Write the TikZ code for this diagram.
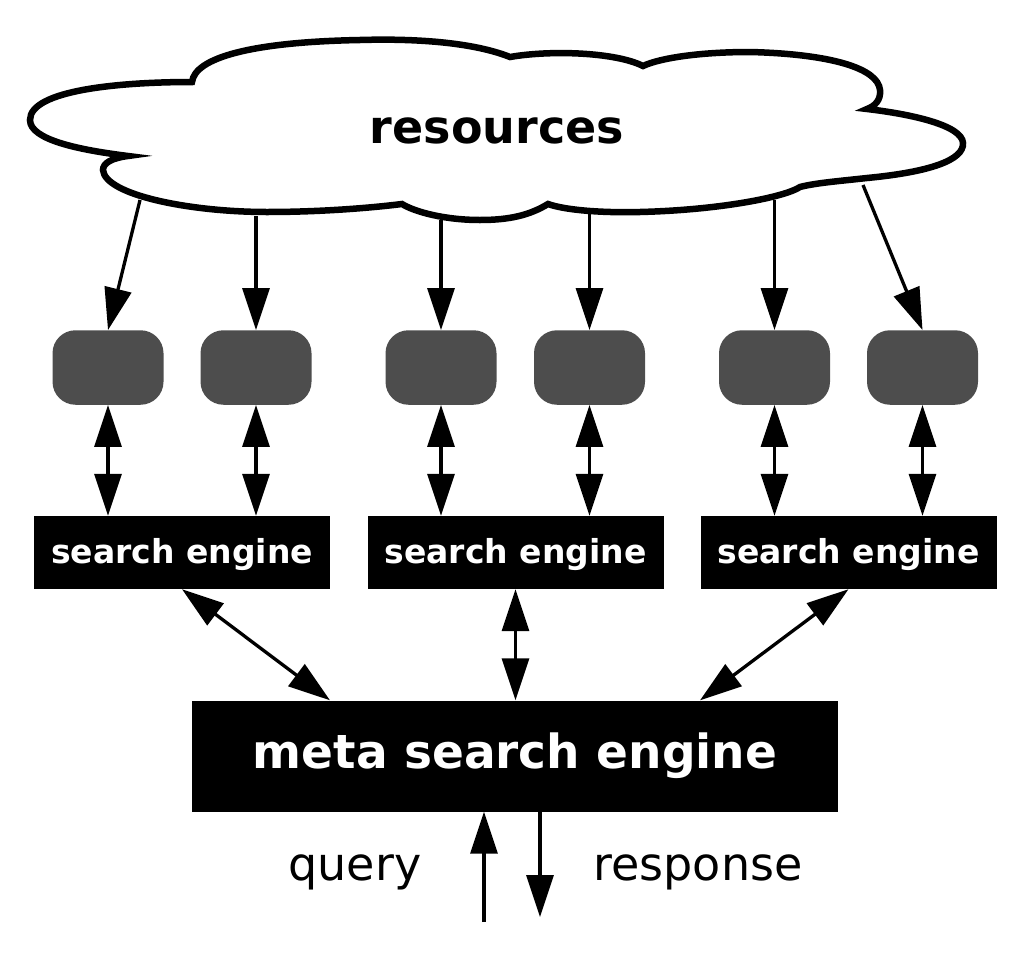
\documentclass[tikz,border=0pt]{standalone}
\usepackage{fontspec}
\setmainfont{DejaVu Sans}
\usetikzlibrary{arrows.meta}
\definecolor{boxgray}{RGB}{77,77,77}
\tikzset{every node/.style={inner sep=0pt},line join=round,
  feed/.style={line width=3.3pt,-{Triangle[length=42pt,width=27pt]}},
  link/.style={line width=3.3pt,{Triangle[length=42pt,width=27pt]}-{Triangle[length=42pt,width=27pt]}},
  idxbox/.style={rectangle,rounded corners=23pt,fill=boxgray,minimum width=111pt,minimum height=74.5pt},
  engbox/.style={rectangle,fill=black,text=white,font=\fontsize{33}{36}\selectfont\bfseries,
    text height=25pt,text depth=4pt,minimum width=296pt,minimum height=73pt}}

\begin{document}
\begin{tikzpicture}[x=1pt,y=-1pt]
  \path[use as bounding box] (0,0) rectangle (1024,961);
  % cloud
  \draw[line width=6.5pt,fill=white] (192,82) .. controls (195,58) and (250,42) .. (360,40)
    .. controls (430,38) and (480,45) .. (510,57)
    .. controls (550,50) and (615,52) .. (643,66)
    .. controls (660,58) and (700,52) .. (750,52)
    .. controls (830,54) and (878,68) .. (880,90)
    .. controls (881,100) and (875,106) .. (867,109)
    .. controls (910,114) and (962,125) .. (963,143)
    .. controls (964,160) and (930,172) .. (867,178)
    .. controls (840,181) and (815,183) .. (800,187)
    .. controls (785,197) and (720,210) .. (640,212)
    .. controls (600,213) and (565,210) .. (548,204)
    .. controls (530,215) and (510,220) .. (480,220)
    .. controls (445,220) and (415,212) .. (402,204)
    .. controls (370,208) and (320,212) .. (267,212)
    .. controls (190,212) and (105,195) .. (103,170)
    .. controls (103,163) and (112,158) .. (128,156)
    .. controls (80,150) and (30,140) .. (30,120)
    .. controls (30,90) and (120,82) .. cycle;
  \node[font=\fontsize{46}{50}\selectfont\bfseries,anchor=base] (res) at (497,143) {resources};
  \coordinate (r1) at (140,200);
  \coordinate (r2) at (256,216);
  \coordinate (r3) at (441,220);
  \coordinate (r4) at (589.5,212);
  \coordinate (r5) at (774.5,200);
  \coordinate (r6) at (863,185);
  % index boxes
  \node[idxbox] (g1) at (108,367.5) {};
  \node[idxbox] (g2) at (256,367.5) {};
  \node[idxbox] (g3) at (441,367.5) {};
  \node[idxbox] (g4) at (589.5,367.5) {};
  \node[idxbox] (g5) at (774.5,367.5) {};
  \node[idxbox] (g6) at (922.5,367.5) {};
  % engines
  \node[engbox] (s1) at (182,552.5) {search engine};
  \node[engbox] (s2) at (515.5,552.5) {search engine};
  \node[engbox] (s3) at (848.5,552.5) {search engine};
  \node[rectangle,fill=black,text=white,font=\fontsize{47}{50}\selectfont\bfseries,
        minimum width=646pt,minimum height=111pt] (m) at (515,756) {meta search engine};
  \foreach \i in {1,...,6}
    \draw[feed] (r\i) -- (g\i.north);
  \foreach \i/\j in {1/1,2/1,3/2,4/2,5/3,6/3}
    \draw[link] (g\i.south) -- (g\i.south |- s\j.north);
  \draw[link] (s1.south) -- ([xshift=-185pt]m.north);
  \draw[link] (s2.south) -- (s2.south |- m.north);
  \draw[link] (s3.south) -- ([xshift=185pt]m.north);
  % query and response
  \coordinate (qin) at (484,922);
  \coordinate (rout) at (540,917);
  \draw[feed] (qin) -- (qin |- m.south);
  \draw[feed] (rout |- m.south) -- (rout);
  \node[font=\fontsize{46}{50}\selectfont,anchor=base] (qlbl) at (355,880) {query};
  \node[font=\fontsize{46}{50}\selectfont,anchor=base] (rlbl) at (698,880) {response};
\end{tikzpicture}
\end{document}
